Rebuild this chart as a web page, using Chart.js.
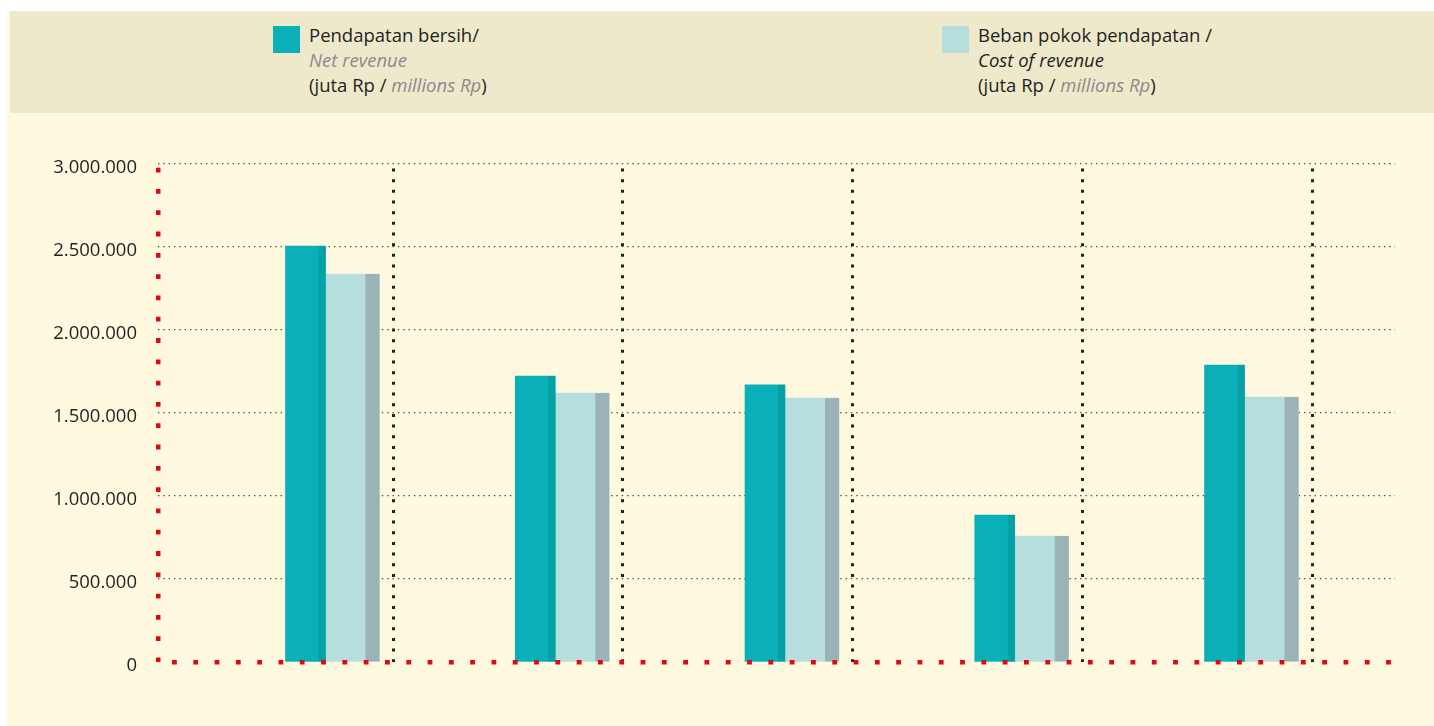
<!DOCTYPE html>
<html>
<head>
<meta charset="utf-8">
<script src="https://cdn.jsdelivr.net/npm/chart.js@4"></script>
<style>
  html, body { margin: 0; padding: 0; background: #fff; width: 1434px; height: 726px; overflow: hidden; }
  body { font-family: 'Open Sans', sans-serif; color: #231f20; }
  .panel { position: absolute; left: 7px; top: 11px; right: 0; bottom: 0; background: #fffadf; }
  .band { position: absolute; left: 10px; top: 11px; right: 0; height: 102px; background: #efe9cc; }
  .key { position: absolute; top: 26px; width: 27px; height: 27px; }
  .label { position: absolute; top: 22px; font-size: 18.5px; line-height: 25px; white-space: nowrap; }
  .en { font-style: italic; color: #8a8a8a; }
  .dark { font-style: italic; color: #231f20; }
  .wrap { position: absolute; left: 7px; top: 113px; width: 1427px; height: 613px; }
</style>
</head>
<body>
<div class="panel"></div>
<div class="band"></div>
<div class="key" style="left:273px;background:#0ab0b8"></div>
<div class="label" style="left:309px">Pendapatan bersih/<br><span class="en">Net revenue</span><br>(juta Rp / <span class="en">millions Rp</span>)</div>
<div class="key" style="left:942px;background:#b6dedd"></div>
<div class="label" style="left:978px">Beban pokok pendapatan /<br><span class="dark">Cost of revenue</span><br>(juta Rp / <span class="en">millions Rp</span>)</div>
<div class="wrap"><canvas id="chart"></canvas></div>
<script>
// five periods, not labelled in the original
const categories = ['1', '2', '3', '4', '5'];
const netRevenue = [2505000, 1723000, 1669000, 885000, 1789000];
const costOfRevenue = [2337000, 1620000, 1590000, 759000, 1596000];
const yTicks = [0, 500000, 1000000, 1500000, 2000000, 2500000, 3000000];

const RED = '#e30613';
const INK = '#231f20';
const X_MIN = -0.023;
const X_MAX = 5.361;
const GROUP_AT = 0.706; // where the pair of bars sits inside each period
const RED_DOTS = [4.8, 16.5];

const dotted = (n) => String(n).replace(/\B(?=(\d{3})+(?!\d))/g, '.');

// darker strip on the right of each bar, a flat "3D" side
const sideFaces = {
  id: 'sideFaces',
  afterDatasetDraw(chart, args) {
    const ds = chart.data.datasets[args.index];
    const ctx = chart.ctx;
    ctx.save();
    ctx.fillStyle = ds.sideColor;
    args.meta.data.forEach((bar) => {
      const { x, y, base, width } = bar.getProps(['x', 'y', 'base', 'width'], true);
      const w = width * ds.sideShare;
      ctx.fillRect(x + width / 2 - w, y, w, base - y);
    });
    ctx.restore();
  },
};

Chart.defaults.font.family = "'Open Sans', sans-serif";

new Chart(document.getElementById('chart'), {
  type: 'bar',
  data: {
    datasets: [
      {
        label: 'Pendapatan bersih / Net revenue',
        data: netRevenue.map((v, i) => ({ x: i + GROUP_AT, y: v })),
        backgroundColor: '#0ab0b8',
        sideColor: '#04a0a3',
        sideShare: 7 / 40,
        barThickness: 40,
      },
      {
        label: 'Beban pokok pendapatan / Cost of revenue',
        data: costOfRevenue.map((v, i) => ({ x: i + GROUP_AT, y: v })),
        backgroundColor: '#b6dedd',
        sideColor: '#9bb3b6',
        sideShare: 14 / 54,
        barThickness: 54,
      },
    ],
  },
  options: {
    responsive: true,
    maintainAspectRatio: false,
    animation: false,
    layout: { padding: { top: 51, right: 39, bottom: 64, left: 0 } },
    plugins: { legend: { display: false }, tooltip: { enabled: false } },
    scales: {
      x: {
        type: 'linear',
        offset: false,
        min: X_MIN,
        max: X_MAX,
        // red axis at the left edge, black dotted separators after each period
        afterBuildTicks: (s) => {
          s.ticks = [{ value: X_MIN }].concat(categories.map((_, i) => ({ value: i + 1 })));
        },
        afterFit: (s) => { s.height = 0; },
        ticks: { display: false },
        grid: {
          offset: false,
          color: (c) => (c.index === 0 ? RED : INK),
          lineWidth: (c) => (c.index === 0 ? 4.5 : 3),
          drawTicks: false,
        },
        border: {
          display: false,
          dash: (c) => (c.index === 0 ? RED_DOTS : [3, 7.67]),
          dashOffset: (c) => (c.index === 0 ? 17.6 : 6.2),
        },
      },
      y: {
        min: 0,
        max: 3000000,
        afterBuildTicks: (s) => { s.ticks = yTicks.map((v) => ({ value: v })); },
        afterFit: (s) => { s.width = 151; },
        ticks: {
          color: INK,
          padding: 21,
          labelOffset: 4,
          font: { size: 18.5 },
          callback: (v) => dotted(v),
        },
        grid: {
          color: (c) => (c.tick && c.tick.value === 0 ? 'transparent' : '#4e4a44'),
          lineWidth: 1.3,
          drawTicks: false,
        },
        border: { display: false, dash: [1.4, 3.93] },
      },
      // red dotted base line, drawn above the bars
      base: {
        type: 'linear',
        position: 'left',
        min: 0,
        max: 3000000,
        afterBuildTicks: (s) => { s.ticks = [{ value: 0 }]; },
        afterFit: (s) => { s.width = 0; },
        ticks: { display: false },
        grid: { color: RED, lineWidth: 4.5, drawTicks: false, z: 1 },
        border: { display: false, dash: RED_DOTS, dashOffset: 7.3 },
      },
    },
  },
  plugins: [sideFaces],
});
</script>
</body>
</html>
